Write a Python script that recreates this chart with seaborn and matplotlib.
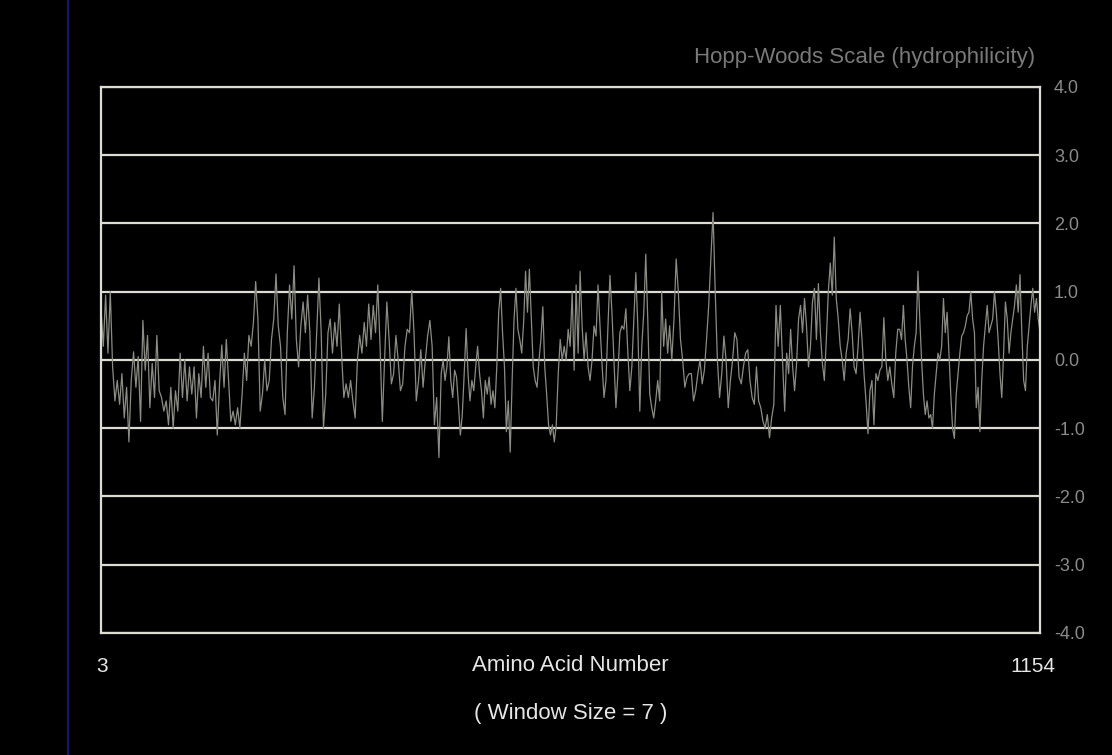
"""Hopp-Woods hydrophilicity profile, redrawn with seaborn."""

import matplotlib
matplotlib.use("Agg")
import matplotlib.pyplot as plt
from matplotlib.lines import Line2D
import numpy as np
import pandas as pd
import seaborn as sns

# residue numbers where each stretch of read-off values begins / ends
SEGMENT_EDGES = [3, 140, 284, 420, 561, 700, 841, 982, 1154]

# hydrophilicity peaks and troughs, left to right
hydro_1 = [0.75, 0.2, 0.95, 0.1, 1.0, -0.1, -0.6, -0.3, -0.65, -0.2, -0.85, -0.4,
           -1.2, -0.3, 0.12, -0.4, 0.05, -0.9, 0.58, -0.15, 0.36, -0.7, -0.05, -0.55,
           0.36, -0.45, -0.55, -0.75, -0.6, -0.95, -0.4, -1.0, -0.45, -0.75, 0.1, -0.55,
           0.0, -0.6, -0.1, -0.5, -0.1, -0.85, -0.2, -0.55, 0.2, -0.4, 0.1, -0.55]
hydro_2 = [-0.6, -0.3, -1.1, -0.35, 0.22, -0.4, 0.3, -0.3, -0.9, -0.75, -0.95, -0.7,
           -1.0, -0.5, 0.1, -0.3, 0.36, 0.2, 0.55, 1.15, 0.6, -0.75, -0.5, 0.0,
           -0.45, -0.3, 0.3, 0.6, 1.26, 0.5, 0.2, -0.55, -0.8, 0.4, 1.1, 0.6,
           1.38, 0.3, -0.1, 0.5, 0.85, 0.4, 0.95, 0.4, -0.85, -0.4, 0.4, 1.2,
           0.4, -1.0, -0.5, 0.4]
hydro_3 = [0.6, 0.1, 0.55, 0.2, 0.82, 0.1, -0.55, -0.35, -0.55, -0.3, -0.6, -0.85,
           0.0, 0.36, 0.1, 0.55, 0.2, 0.82, 0.3, 0.8, 0.4, 1.1, 0.2, -0.9,
           0.0, 0.85, 0.3, -0.35, -0.2, 0.36, 0.0, -0.45, -0.35, 0.2, 0.45, 0.4,
           1.02, 0.4, -0.6, -0.3, 0.15, -0.4, 0.0, 0.35, 0.58, 0.2, -0.95, -0.55,
           -1.43]
hydro_4 = [-0.2, 0.0, -0.3, -0.1, 0.34, -0.3, -0.55, -0.15, -0.25, -0.65, -1.1, -0.8,
           -0.2, 0.46, -0.2, -0.6, -0.3, -0.45, -0.1, 0.2, -0.2, -0.45, -0.85, -0.3,
           -0.5, -0.25, -0.65, -0.45, -0.7, -0.1, 0.7, 1.05, 0.4, -0.1, -1.05, -0.6,
           -1.35, -0.3, 0.6, 1.05, 0.45, 0.3, 0.1, 0.55, 1.3, 0.7, 1.33, 0.6,
           -0.1, -0.3, -0.4, 0.0, 0.3, 0.78, -0.1, -0.5, -0.95, -1.1, -0.95, -1.2]
hydro_5 = [-0.95, -0.2, 0.3, 0.0, 0.2, 0.0, 0.45, 0.2, 1.0, -0.15, 1.1, 0.1,
           1.3, 0.5, 0.0, 0.4, -0.1, -0.3, 0.0, 0.5, 0.35, 1.1, 0.5, -0.05,
           -0.55, -0.3, 0.5, 1.24, 0.7, 0.0, -0.7, -0.2, 0.4, 0.5, 0.45, 0.75,
           0.1, -0.45, -0.1, 0.6, 1.28, 0.5, -0.75, 0.2, 0.7, 1.55, 0.6, -0.5,
           -0.7, -0.85, -0.6, -0.3, -0.6, 1.0, 0.2, 0.6, 0.1]
hydro_6 = [0.5, 0.0, 0.6, 1.48, 1.0, 0.3, 0.0, -0.4, -0.25, -0.2, -0.2, -0.6,
           -0.45, -0.2, 0.0, -0.35, -0.15, 0.3, 0.8, 1.5, 2.16, 1.0, 0.0, -0.55,
           -0.2, 0.35, 0.0, -0.7, -0.3, 0.0, 0.4, 0.3, -0.25, -0.35, -0.1, 0.1,
           0.15, -0.3, -0.55, -0.65, -0.1, -0.6, -0.7, -0.9, -1.0, -0.8, -1.14, -0.85,
           -0.65, 0.8, 0.2, 0.8, 0.0]
hydro_7 = [-0.75, 0.1, -0.2, 0.45, -0.1, -0.45, -0.05, 0.6, 0.8, 0.4, 0.9, 0.5,
           -0.1, 0.2, 0.85, 1.05, 0.3, 1.12, 0.4, -0.05, -0.3, 0.3, 1.0, 1.42,
           0.95, 1.8, 0.9, 0.6, 0.2, 0.0, -0.3, 0.1, 0.3, 0.75, 0.4, -0.1,
           -0.2, 0.2, 0.7, 0.3, -0.2, -0.6, -1.08, -0.45, -0.3, -0.95, -0.2, -0.3,
           -0.15, -0.1, 0.62, 0.0, -0.3, -0.1, -0.35, -0.55, 0.1, 0.45]
hydro_8 = [0.45, 0.3, 0.8, 0.3, 0.0, -0.4, -0.7, -0.1, 0.2, 0.4, 1.3, 0.6,
           0.0, -0.5, -0.8, -0.6, -0.85, -0.8, -1.0, -0.5, -0.2, 0.1, 0.0, 0.2,
           0.9, 0.4, 0.7, 0.1, -0.5, -1.0, -1.15, -0.5, -0.2, 0.1, 0.35, 0.4,
           0.5, 0.65, 0.7, 1.0, 0.6, 0.4, -0.7, -0.4, -1.05, -0.3, 0.2, 0.5,
           0.8, 0.4, 0.5, 0.6, 1.0, 0.7, 0.3, -0.2, -0.55, 0.1, 0.85, 0.6,
           0.1, 0.4, 0.6, 0.8, 1.1, 0.7, 1.25, 0.4, -0.3, -0.45, 0.2, 0.5,
           0.8, 1.05, 0.7, 0.9, 0.6, 0.4]

Y_TICKS = [4, 3, 2, 1, 0, -1, -2, -3, -4]

segments = [hydro_1, hydro_2, hydro_3, hydro_4, hydro_5, hydro_6, hydro_7, hydro_8]
xs, ys = [], []
for k, seg in enumerate(segments):
    last = k == len(segments) - 1
    pos = np.linspace(SEGMENT_EDGES[k], SEGMENT_EDGES[k + 1], len(seg), endpoint=last)
    xs.extend(pos)
    ys.extend(seg)
df = pd.DataFrame({"residue": xs, "score": ys})

sns.set_style("dark")
plt.rcParams["font.family"] = ["Liberation Sans", "DejaVu Sans"]

fig = plt.figure(figsize=(11.12, 7.55), dpi=100, facecolor="black")
ax = fig.add_axes([0.0908, 0.1616, 0.8445, 0.7232])
ax.set_facecolor("black")

sns.lineplot(data=df, x="residue", y="score", ax=ax, color="#8c8c84",
             linewidth=0.9, estimator=None, sort=False)

for v in Y_TICKS:
    ax.axhline(v, color="#dcdcd4", linewidth=1.6, zorder=0)

ax.set_xlim(SEGMENT_EDGES[0], SEGMENT_EDGES[-1])
ax.set_ylim(-4, 4)
ax.grid(False)
for sp in ax.spines.values():
    sp.set_color("#dcdcd4")
    sp.set_linewidth(1.6)

ax.yaxis.tick_right()
ax.set_yticks(Y_TICKS)
ax.set_yticklabels([f"{v:.1f}" for v in Y_TICKS])
ax.tick_params(axis="y", length=0, pad=10, labelsize=13, labelcolor="#8a8a8a")
ax.set_xticks([])
ax.set_xlabel("")
ax.set_ylabel("")

fig.text(0.9308, 0.924, "Hopp-Woods Scale (hydrophilicity)", ha="right", va="center",
         fontsize=16, color="#7a7a7a")
fig.text(0.0917, 0.117, "3", ha="center", va="center", fontsize=15, color="#e6e6e6")
fig.text(0.9285, 0.117, "1154", ha="center", va="center", fontsize=15, color="#e6e6e6")
fig.text(0.513, 0.118, "Amino Acid Number", ha="center", va="center",
         fontsize=16, color="#e6e6e6")
fig.text(0.513, 0.055, "( Window Size = 7 )", ha="center", va="center",
         fontsize=16, color="#e6e6e6")

fig.add_artist(Line2D([0.061, 0.061], [0, 1], color="#1a1a8c", linewidth=1.2,
                      transform=fig.transFigure))

fig.savefig("out.png", dpi=100, facecolor="black")
